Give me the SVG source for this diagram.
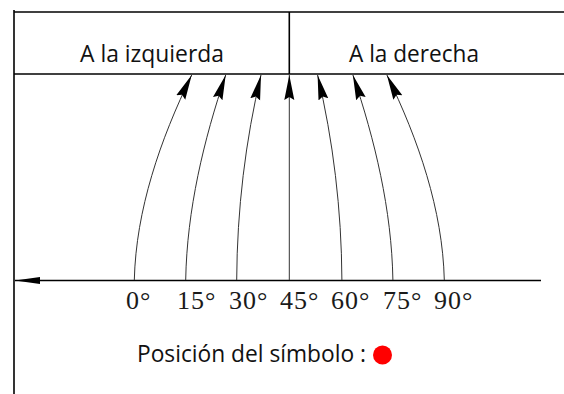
<svg xmlns="http://www.w3.org/2000/svg" width="564" height="394" viewBox="0 0 564 394">
  <style>
    .frame { stroke: #000; stroke-width: 1.6; fill: none; }
    .curve { stroke: #333; stroke-width: 1; fill: none; marker-end: url(#head); }
    .sans { font-family: "Open Sans", "Noto Sans", "Liberation Sans", sans-serif; font-size: 23px; fill: #111; }
    .deg { font-family: "Liberation Serif", "Times New Roman", serif; font-size: 26px; fill: #1a1a1a; letter-spacing: 1px; }
  </style>
  <defs>
    <marker id="head" markerUnits="userSpaceOnUse" viewBox="0 0 25 11" refX="25" refY="5.5" markerWidth="25" markerHeight="11" orient="auto">
      <path d="M0,0.5 L25,5.5 L0,10.5 L3,5.5 Z" fill="#000"/>
    </marker>
    <marker id="axishead" markerUnits="userSpaceOnUse" viewBox="0 0 25 8" refX="25" refY="4" markerWidth="25" markerHeight="8" orient="auto">
      <path d="M0,0.5 L25,4 L0,7.5 Z" fill="#000"/>
    </marker>
  </defs>

  <rect width="564" height="394" fill="#fff"/>

  <g id="frame">
    <line class="frame" x1="14" y1="10" x2="14" y2="394"/>
    <line class="frame" x1="14" y1="12" x2="564" y2="12"/>
    <line class="frame" x1="14" y1="74" x2="564" y2="74"/>
    <line class="frame" x1="289.3" y1="12" x2="289.3" y2="74"/>
  </g>

  <g id="header-left">
    <text class="sans" x="80" y="62" textLength="144" lengthAdjust="spacingAndGlyphs">A la izquierda</text>
  </g>
  <g id="header-right">
    <text class="sans" x="349" y="62" textLength="130" lengthAdjust="spacingAndGlyphs">A la derecha</text>
  </g>

  <g id="axis">
    <path d="M541,280.5 H15" stroke="#000" stroke-width="1.6" fill="none" marker-end="url(#axishead)"/>
  </g>

  <g id="connectors">
    <path class="curve" d="M134.3,280 C136,210 160,140 191.7,75"/>
    <path class="curve" d="M185.7,280 C186.9,210 203.7,140 225.7,75"/>
    <path class="curve" d="M236.7,280 C237,210 245.5,140 261,75"/>
    <path class="curve" d="M289.3,280 V75" stroke="#000" stroke-width="1.6"/>
    <path class="curve" d="M341.9,280 C341.6,210 333.1,140 317.6,75"/>
    <path class="curve" d="M392.9,280 C391.7,210 374.9,140 352.9,75"/>
    <path class="curve" d="M444.3,280 C442.6,210 418.6,140 386.9,75"/>
  </g>

  <g id="labels">
    <text class="deg" x="126" y="309">0°</text>
    <text class="deg" x="177" y="309">15°</text>
    <text class="deg" x="229" y="309">30°</text>
    <text class="deg" x="280" y="309">45°</text>
    <text class="deg" x="331" y="309">60°</text>
    <text class="deg" x="383" y="309">75°</text>
    <text class="deg" x="434" y="309">90°</text>
  </g>

  <g id="legend">
    <text class="sans" x="137" y="362" textLength="229" lengthAdjust="spacingAndGlyphs">Posición del símbolo :</text>
    <circle cx="382.5" cy="355" r="9.5" fill="#ff0000"/>
  </g>
</svg>
